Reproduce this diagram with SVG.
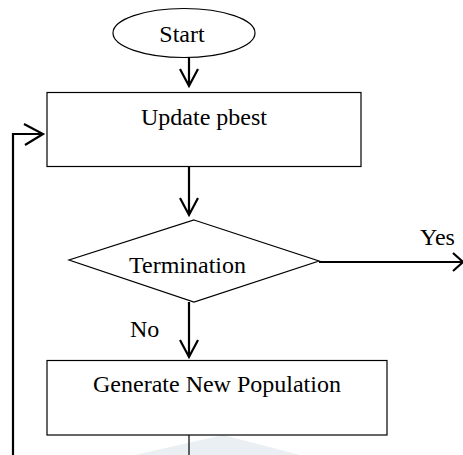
<svg xmlns="http://www.w3.org/2000/svg" width="463" height="455" viewBox="0 0 463 455">
<style>
.shape{fill:#fff;stroke:#000;stroke-width:1.2}
.lbl{font-family:"Liberation Serif","Times New Roman",serif;font-size:24px;fill:#000}
.con{fill:none;stroke:#000;stroke-width:2.2}
.thin{fill:none;stroke:#000;stroke-width:1.2}
</style>
<polygon points="135,455 223,435 300,455" fill="#e9eff3"/>
<g id="start">
<ellipse class="shape" cx="184" cy="33" rx="71" ry="24.5"/>
<text class="lbl" x="182" y="42" text-anchor="middle">Start</text>
</g>
<g id="update">
<rect class="shape" x="47" y="92.5" width="314" height="74"/>
<text class="lbl" x="204" y="125" text-anchor="middle">Update pbest</text>
</g>
<g id="termination">
<polygon class="shape" points="194,220 319,261 194,302 69,260"/>
<text class="lbl" x="187.5" y="273" text-anchor="middle">Termination</text>
</g>
<g id="generate">
<rect class="shape" x="47" y="360.5" width="340" height="74.5"/>
<text class="lbl" x="217" y="392" text-anchor="middle">Generate New Population</text>
</g>
<g id="connectors">
<path class="con" d="M189,57 V86 M180,69 L189,86 L198,69"/>
<path class="con" d="M189,167 V215 M180,198 L189,215 L198,198"/>
<path class="con" d="M319,262 H463 M453,253 L463,262 L453,271"/>
<path class="con" d="M189,302 V357 M180,340 L189,357 L198,340"/>
<path class="thin" d="M189,435 V455"/>
<path class="con" d="M13,455 V134 H43 M24,124 L43,134 L25,145"/>
<text class="lbl" x="420" y="245">Yes</text>
<text class="lbl" x="130" y="337">No</text>
</g>
</svg>
